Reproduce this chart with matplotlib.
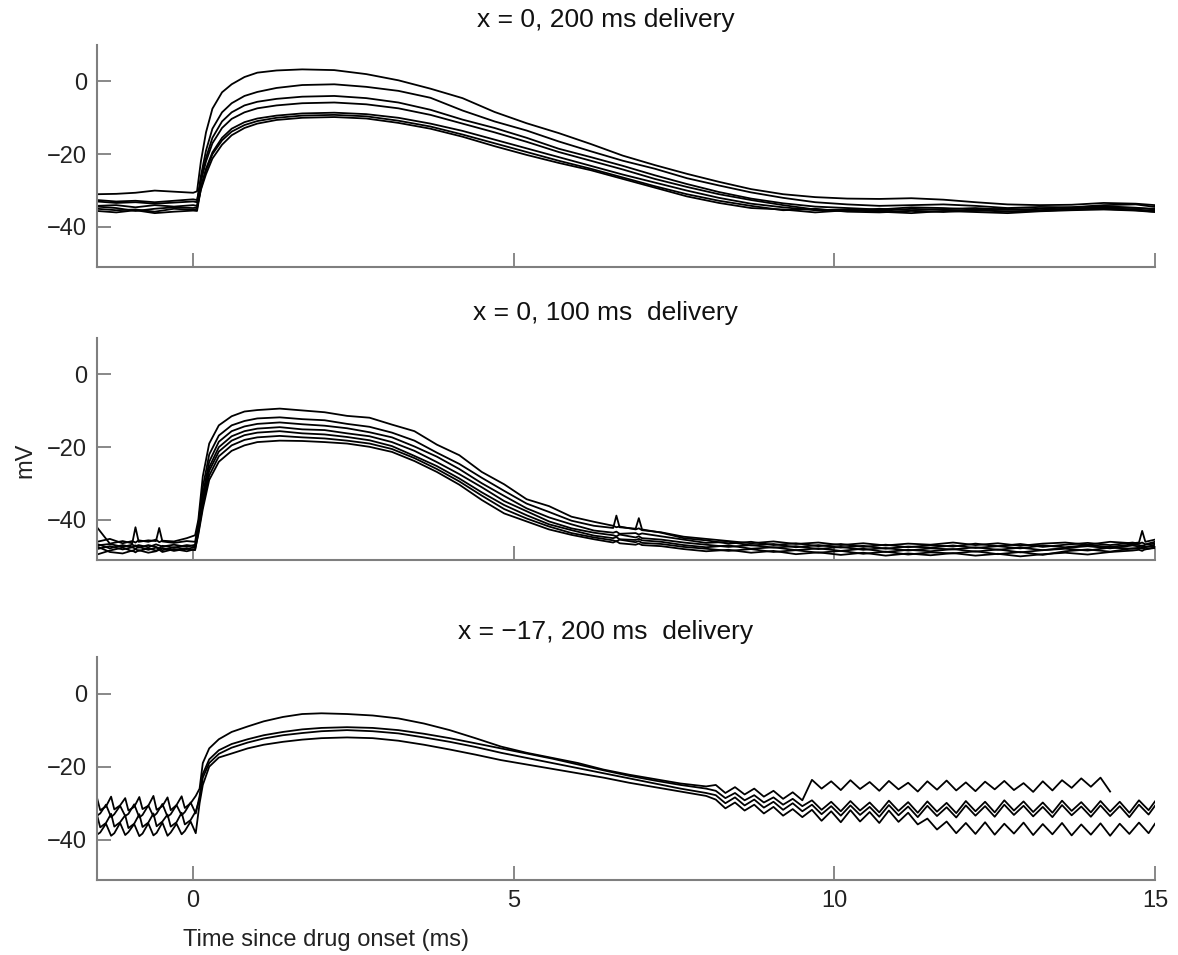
import numpy as np
import matplotlib
matplotlib.use("Agg")
import matplotlib.pyplot as plt

plt.rcParams['font.family'] = ['Liberation Sans', 'DejaVu Sans']

# ---------------- panel 1: x = 0, 200 ms delivery ----------------
t1 = [-1.5, -1.2, -0.9, -0.6, -0.3, 0.0, 0.06, 0.12, 0.2, 0.3, 0.45, 0.6, 0.8, 1.0, 1.3,
      1.7, 2.2, 2.7, 3.2, 3.7, 4.2, 4.7, 5.2, 5.7, 6.2, 6.7, 7.2, 7.7, 8.2, 8.7, 9.2, 9.7,
      10.2, 10.7, 11.2, 11.7, 12.2, 12.7, 13.2, 13.7, 14.2, 14.7, 15.0]
p1_a = [-31.0, -30.9, -30.6, -30.0, -30.3, -30.6, -30.2, -22.0, -14.0, -7.5, -3.0, -0.8, 1.2, 2.4, 3.0,
        3.3, 3.1, 2.0, 0.3, -2.0, -4.6, -8.4, -11.5, -14.2, -17.2, -20.4, -23.0, -25.4, -27.6, -29.6, -31.0, -31.8,
        -32.2, -32.3, -32.1, -32.5, -33.2, -33.8, -34.0, -33.9, -33.4, -33.6, -34.0]
p1_b = [-33.0, -33.4, -33.2, -33.6, -33.3, -33.0, -33.2, -26.0, -19.0, -13.0, -8.5, -6.0, -4.0, -2.9, -1.8,
        -1.0, -0.8, -1.5, -2.6, -4.5, -8.0, -11.0, -13.5, -16.5, -19.2, -21.8, -24.0, -26.6, -28.6, -30.5, -32.0, -33.2,
        -33.8, -34.2, -34.0, -33.8, -34.2, -34.8, -34.5, -34.6, -34.0, -33.8, -34.5]
p1_c = [-34.2, -34.0, -34.6, -34.0, -34.4, -34.0, -34.2, -27.0, -21.0, -15.5, -11.0, -8.5, -6.6, -5.6, -4.8,
        -4.2, -4.0, -4.6, -5.8, -7.8, -10.5, -12.8, -15.5, -18.5, -20.8, -23.2, -25.8, -28.2, -30.4, -32.2, -33.5, -34.4,
        -34.8, -35.2, -34.6, -34.8, -35.2, -35.0, -35.4, -34.9, -34.6, -34.8, -35.0]
p1_d = [-32.6, -33.0, -32.8, -33.2, -32.8, -32.4, -32.6, -27.5, -22.0, -17.0, -12.8, -10.3, -8.5, -7.4, -6.6,
        -6.0, -5.8, -6.3, -7.4, -9.2, -11.6, -14.0, -16.6, -19.4, -21.8, -24.2, -26.8, -29.0, -31.0, -32.6, -34.0, -35.2,
        -35.6, -35.0, -35.4, -35.1, -34.8, -35.3, -35.0, -34.6, -34.3, -34.7, -35.2]
p1_e = [-35.0, -35.4, -35.2, -35.8, -35.0, -35.3, -35.0, -29.0, -24.0, -19.5, -15.5, -13.0, -11.2, -10.2, -9.4,
        -8.8, -8.6, -9.0, -10.0, -11.6, -13.6, -16.0, -18.4, -20.8, -23.2, -25.6, -27.8, -30.0, -32.0, -33.6, -34.6, -35.4,
        -35.2, -35.6, -35.0, -35.3, -35.6, -35.2, -35.5, -35.0, -34.8, -35.2, -35.6]
p1_f = [-35.6, -36.0, -35.4, -36.2, -35.8, -35.5, -35.6, -29.5, -24.5, -20.0, -16.2, -13.8, -12.0, -10.9, -10.0,
        -9.4, -9.2, -9.6, -10.8, -12.4, -14.6, -17.0, -19.4, -21.8, -24.0, -26.4, -28.8, -31.0, -32.8, -34.2, -35.4, -35.0,
        -35.8, -36.0, -35.6, -35.9, -35.4, -35.8, -35.6, -35.2, -35.0, -35.4, -35.8]
p1_g = [-34.4, -34.8, -35.6, -35.0, -34.6, -34.8, -34.6, -29.8, -25.5, -21.2, -17.4, -14.8, -12.8, -11.6, -10.6,
        -10.0, -9.8, -10.2, -11.4, -13.0, -15.2, -17.8, -20.2, -22.4, -24.4, -26.8, -29.2, -31.6, -33.4, -34.8, -35.2, -36.0,
        -35.4, -35.8, -36.2, -35.6, -35.9, -36.2, -35.7, -35.4, -35.2, -35.5, -35.9]
panel1 = [p1_a, p1_b, p1_c, p1_d, p1_e, p1_f, p1_g]

# ---------------- panel 2: x = 0, 100 ms delivery ----------------
t2 = [-1.5, -1.3, -1.1, -0.95, -0.9, -0.85, -0.7, -0.58, -0.53, -0.48, -0.3, -0.1, 0.03,
      0.08, 0.15, 0.25, 0.4, 0.6, 0.8,
      1.0, 1.35, 1.7, 2.05, 2.4, 2.75, 3.1, 3.45, 3.8, 4.15, 4.5, 4.85, 5.2, 5.55, 5.9, 6.25,
      6.55, 6.6, 6.65, 6.9, 6.95, 7.0,
      7.3, 7.65, 8.0, 8.35, 8.7, 9.05, 9.4, 9.75, 10.1, 10.45, 10.8, 11.15, 11.5, 11.85, 12.2,
      12.55, 12.9, 13.25, 13.6, 13.95, 14.3, 14.65,
      14.75, 14.8, 14.85, 15.0]
p2_1 = [-46.0, -45.2, -46.4, -45.8, -46.2, -45.6, -46.0, -45.4, -46.1, -45.7, -45.9, -45.0, -44.2,
        -40.0, -28.0, -19.0, -14.0, -11.5, -10.2,
        -9.8, -9.4, -9.9, -10.4, -11.4, -11.9, -13.8, -15.6, -19.3, -22.2, -26.8, -30.2, -34.3, -36.2, -39.1, -40.5,
        -41.6, -42.0, -41.8, -42.6, -42.3, -42.8,
        -43.4, -44.6, -45.2, -45.8, -46.4, -45.9, -46.6, -46.2, -46.9, -46.4, -47.0, -46.5, -46.8, -46.2, -46.9,
        -46.4, -47.1, -46.5, -46.2, -46.8, -46.0, -46.4,
        -46.2, -43.0, -46.0, -45.4]
p2_2 = [-42.0, -46.5, -45.8, -46.4, -42.0, -46.0, -45.6, -45.8, -42.2, -45.9, -46.3, -45.8, -46.0,
        -41.0, -31.0, -22.0, -16.8, -14.0, -12.8,
        -12.1, -11.8, -12.3, -12.6, -13.6, -14.4, -16.0, -18.2, -21.5, -24.6, -28.4, -32.0, -35.5, -37.8, -40.2, -41.6,
        -42.2, -38.8, -42.0, -42.4, -39.5, -42.6,
        -43.5, -45.0, -45.6, -46.5, -46.0, -46.9, -46.4, -47.2, -46.6, -47.4, -46.8, -47.5, -46.9, -47.3, -46.5,
        -47.2, -46.6, -47.4, -46.8, -46.3, -46.9, -46.2,
        -46.5, -46.2, -46.7, -46.0]
p2_3 = [-47.0, -46.6, -47.4, -46.8, -47.2, -46.9, -47.5, -46.7, -47.0, -47.3, -46.8, -47.4, -46.8,
        -42.0, -33.0, -24.0, -18.5, -15.6, -14.3,
        -13.6, -13.2, -13.7, -14.1, -14.8, -15.9, -17.3, -19.8, -22.6, -26.0, -29.9, -33.4, -36.8, -39.3, -41.2, -42.9,
        -43.5, -43.2, -43.8, -43.6, -44.0, -43.7,
        -44.5, -45.4, -46.3, -46.0, -47.0, -46.6, -47.5, -46.9, -47.6, -47.1, -47.9, -47.3, -47.6, -47.0, -47.7,
        -47.2, -47.8, -47.0, -47.5, -46.9, -47.4, -46.7,
        -46.9, -47.2, -46.8, -46.5]
p2_4 = [-46.6, -47.8, -46.9, -47.5, -47.0, -47.6, -46.9, -47.4, -47.8, -47.1, -47.6, -46.9, -47.2,
        -42.5, -34.0, -25.5, -20.0, -17.0, -15.6,
        -14.9, -14.5, -15.1, -15.3, -16.2, -17.0, -18.6, -21.0, -24.1, -27.4, -31.0, -34.8, -37.6, -40.4, -42.3, -43.5,
        -44.2, -44.5, -44.0, -44.8, -44.5, -45.0,
        -45.4, -46.2, -46.8, -47.4, -46.9, -47.6, -47.2, -48.0, -47.4, -48.2, -47.7, -48.4, -47.8, -48.1, -47.5,
        -48.2, -47.6, -48.3, -47.7, -47.2, -47.8, -47.0,
        -47.3, -47.0, -47.5, -46.8]
p2_5 = [-48.0, -47.2, -48.1, -47.5, -47.9, -47.4, -48.2, -47.6, -47.9, -48.3, -47.5, -48.0, -47.4,
        -43.0, -35.0, -26.5, -21.2, -18.2, -16.7,
        -16.0, -15.6, -16.2, -16.5, -17.2, -18.1, -19.7, -22.4, -25.2, -28.6, -32.4, -35.9, -38.7, -41.2, -42.8, -44.3,
        -45.0, -44.7, -45.3, -45.5, -45.2, -45.6,
        -46.0, -46.9, -47.5, -47.0, -47.9, -47.5, -48.3, -47.8, -48.5, -47.9, -48.8, -48.2, -48.6, -48.0, -48.7,
        -48.1, -48.9, -48.3, -47.9, -48.4, -47.6, -47.9,
        -47.6, -47.9, -47.4, -47.2]
p2_6 = [-49.5, -48.4, -47.6, -48.6, -48.0, -48.5, -47.8, -48.4, -48.1, -47.7, -48.5, -47.9, -48.3,
        -43.5, -36.0, -27.8, -22.5, -19.5, -18.0,
        -17.3, -16.9, -17.3, -17.6, -18.2, -19.0, -20.5, -23.0, -26.0, -29.4, -33.3, -37.0, -39.6, -41.8, -43.6, -44.8,
        -45.6, -45.9, -45.4, -46.1, -45.8, -46.3,
        -46.6, -47.4, -47.9, -48.5, -48.0, -48.8, -48.3, -49.0, -48.5, -49.3, -48.7, -49.5, -48.9, -49.2, -48.6,
        -49.4, -48.8, -49.6, -48.6, -48.1, -48.7, -47.8,
        -47.9, -47.6, -48.1, -47.5]
p2_7 = [-47.3, -48.8, -49.2, -48.4, -48.9, -48.3, -49.0, -48.6, -48.2, -48.8, -48.0, -48.6, -48.0,
        -44.0, -37.0, -29.0, -24.0, -21.0, -19.5,
        -18.6, -18.2, -18.3, -18.6, -19.0, -19.9, -21.3, -23.8, -26.8, -30.3, -34.5, -38.2, -40.4, -42.6, -44.1, -45.3,
        -46.2, -45.8, -46.4, -46.8, -46.5, -46.9,
        -47.2, -48.0, -48.6, -48.2, -49.0, -48.5, -49.4, -48.9, -49.6, -49.0, -49.8, -49.2, -49.7, -49.1, -49.8,
        -49.3, -50.0, -49.4, -49.0, -49.5, -48.8, -48.4,
        -48.2, -48.5, -48.0, -47.7]
panel2 = [p2_1, p2_2, p2_3, p2_4, p2_5, p2_6, p2_7]

# ---------------- panel 3: x = -17, 200 ms delivery ----------------
t3 = [-1.5, -1.45, -1.36, -1.28, -1.23, -1.14, -1.06, -1.01, -0.92, -0.84, -0.79, -0.70,
      -0.62, -0.57, -0.48, -0.40, -0.35, -0.26, -0.18, -0.13, -0.04, 0.04,
      0.1, 0.15, 0.25, 0.4, 0.6, 0.85, 1.1, 1.4, 1.7, 2.0, 2.4, 2.8, 3.2, 3.6, 4.0, 4.4, 4.8,
      5.2, 5.6, 6.0, 6.4, 6.8, 7.2, 7.6, 8.0,
      8.15, 8.3, 8.45, 8.6, 8.75, 8.9, 9.05, 9.2, 9.35, 9.5,
      9.65, 9.8, 9.95, 10.1, 10.25, 10.4, 10.55, 10.7, 10.85, 11.0,
      11.15, 11.3, 11.45, 11.6, 11.75, 11.9, 12.05, 12.2, 12.35, 12.5,
      12.65, 12.8, 12.95, 13.1, 13.25, 13.4, 13.55, 13.7, 13.85, 14.0,
      14.15, 14.3, 14.45, 14.6, 14.75, 14.9, 15.0]
p3_1 = [-28.5, -31.9, -30.9, -28.2, -31.7, -30.6, -28.6, -32.0, -31.0, -28.3, -31.6, -30.7,
        -28.0, -31.8, -30.8, -28.4, -31.9, -30.5, -28.1, -31.3, -30.0, -28.0,
        -26.0, -19.0, -15.0, -12.5, -10.5, -9.0, -7.6, -6.4, -5.6, -5.4, -5.6, -6.0, -6.8, -8.2, -10.0, -12.2, -14.5,
        -16.2, -17.6, -19.0, -20.8, -22.2, -23.4, -24.6, -25.4,
        -25.0, -27.2, -25.6, -27.6, -26.0, -28.2, -26.6, -28.8, -27.0, -29.2,
        -23.6, -26.0, -24.0, -26.4, -23.7, -26.1, -24.2, -26.6, -23.9, -26.2,
        -24.4, -26.8, -24.0, -26.3, -23.8, -26.5, -24.3, -26.7, -24.1, -26.2,
        -23.9, -26.4, -24.5, -26.9, -24.0, -26.5, -23.7, -25.8, -23.2, -25.5,
        -23.0, -26.8, np.nan, np.nan, np.nan, np.nan, np.nan]
p3_2 = [-33.4, -32.8, -30.4, -33.8, -33.0, -30.7, -33.5, -32.9, -30.3, -33.9, -33.2, -30.6,
        -33.6, -32.8, -30.2, -33.7, -33.0, -30.5, -33.3, -32.4, -29.8, -32.8,
        -28.0, -22.0, -18.0, -15.5, -13.8, -12.5, -11.4, -10.5, -9.8, -9.4, -9.2, -9.4, -10.0, -11.0, -12.2, -13.6, -15.0,
        -16.4, -17.8, -19.4, -21.0, -22.5, -23.8, -25.0, -26.0,
        -26.6, -28.6, -27.2, -29.2, -27.8, -29.8, -28.4, -30.4, -28.8, -30.8,
        -29.2, -31.8, -29.6, -32.2, -29.4, -32.0, -29.8, -32.5, -29.3, -32.1,
        -29.7, -32.6, -29.5, -32.3, -29.9, -32.7, -29.4, -32.2, -29.6, -32.5,
        -29.2, -32.0, -29.5, -32.4, -29.8, -32.6, -29.3, -32.1, -29.7, -32.5,
        -29.4, -32.3, -29.6, -32.6, -29.2, -31.9, -29.5]
p3_3 = [-33.2, -36.6, -35.4, -32.9, -36.4, -35.2, -33.3, -36.8, -35.6, -33.0, -36.5, -35.3,
        -32.8, -36.3, -35.0, -33.1, -36.4, -35.2, -32.6, -35.8, -34.6, -32.2,
        -29.0, -23.0, -19.0, -16.5, -14.8, -13.4, -12.3, -11.4, -10.8, -10.3, -10.0, -10.3, -10.9, -12.0, -13.2, -14.6, -16.2,
        -17.6, -19.0, -20.4, -21.8, -23.2, -24.6, -26.0, -27.2,
        -27.8, -30.0, -28.4, -30.6, -29.0, -31.2, -29.6, -31.8, -30.0, -32.2,
        -30.4, -33.0, -30.8, -33.4, -30.6, -33.2, -31.0, -33.7, -30.5, -33.3,
        -30.9, -33.8, -30.7, -33.5, -31.1, -33.9, -30.6, -33.4, -30.8, -33.7,
        -30.4, -33.2, -30.7, -33.6, -31.0, -33.8, -30.5, -33.3, -30.9, -33.7,
        -30.6, -33.5, -30.8, -33.8, -30.4, -33.1, -30.7]
p3_4 = [-38.6, -38.0, -35.6, -38.9, -38.2, -35.4, -38.7, -37.9, -35.7, -39.0, -38.3, -35.5,
        -38.8, -38.1, -35.3, -38.9, -38.0, -35.6, -38.5, -37.6, -35.0, -38.2,
        -30.0, -25.0, -20.0, -17.5, -16.4, -15.0, -14.0, -13.2, -12.6, -12.2, -12.0, -12.2, -12.9, -14.0, -15.3, -16.7, -18.2,
        -19.4, -20.6, -21.8, -23.0, -24.4, -25.6, -26.8, -28.0,
        -29.0, -31.4, -29.8, -32.0, -30.4, -32.8, -31.0, -33.4, -31.6, -33.8,
        -31.8, -34.8, -32.2, -35.2, -31.9, -35.0, -32.4, -35.4, -32.0, -35.1,
        -32.6, -35.8, -34.2, -37.2, -35.0, -38.2, -35.4, -38.4, -35.2, -38.6,
        -35.6, -38.3, -35.3, -38.7, -35.7, -38.5, -35.4, -38.8, -35.8, -38.6,
        -35.5, -38.9, -35.6, -38.4, -35.3, -38.2, -35.6]
panel3 = [p3_1, p3_2, p3_3, p3_4]

titles = ['x = 0, 200 ms delivery', 'x = 0, 100 ms  delivery', 'x = \u221217, 200 ms  delivery']
x_ticks = [0, 5, 10, 15]
y_ticks = [-40, -20, 0]

W, H = 1178, 955
fig = plt.figure(figsize=(W / 100, H / 100), dpi=100)
axes_px = [(45, 267), (338, 560), (657, 880)]
left_px, right_px = 97, 1155

spine_col = '#7f7f7f'
for i, (times, traces) in enumerate([(t1, panel1), (t2, panel2), (t3, panel3)]):
    top, bot = axes_px[i]
    ax = fig.add_axes([left_px / W, 1 - bot / H, (right_px - left_px) / W, (bot - top) / H])
    for tr in traces:
        ax.plot(times, tr, color='black', lw=1.3, solid_joinstyle='round')
    ax.set_xlim(-1.5, 15)
    ax.set_ylim(-51, 10)
    for s in ['top', 'right']:
        ax.spines[s].set_visible(False)
    for s in ['left', 'bottom']:
        ax.spines[s].set_color(spine_col)
        ax.spines[s].set_linewidth(1.5)
    ax.set_xticks(x_ticks)
    ax.set_yticks(y_ticks)
    ax.set_yticklabels(['\u221240', '\u221220', '0'])
    ax.tick_params(direction='in', length=10, width=1.3, color=spine_col,
                   labelsize=17, labelcolor='#222222', pad=7)
    if i < 2:
        ax.set_xticklabels([])
    ax.text(0.481, 1 + 25 / (bot - top), titles[i], transform=ax.transAxes,
            ha='center', va='center', fontsize=19, color='#111111')

fig.text(25 / W, 1 - 460 / H, 'mV', rotation=90, ha='center', va='center',
         fontsize=17, color='#222222')
fig.text(183 / W, 1 - 940 / H, 'Time since drug onset (ms)', ha='left', va='center',
         fontsize=17, color='#222222')

fig.savefig('out.png', dpi=100)
